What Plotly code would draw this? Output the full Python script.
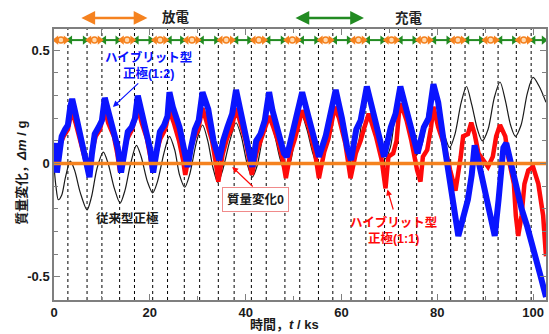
import plotly.graph_objects as go

# ---- data -------------------------------------------------------------
# switching times between discharge and charge steps (ks)
switch_times = [2.9, 6.9, 10.0, 13.7, 16.8, 20.6, 23.7, 27.2, 30.4, 34.3, 37.6,
                41.2, 44.3, 48.2, 51.3, 55.2, 58.2, 62.0, 65.1, 69.0, 71.9,
                75.7, 78.9, 82.8, 85.8, 89.6, 92.7, 96.5, 99.6]
t_end = 102.7

# conventional cathode
t_conv = [0.0, 0.4, 0.9, 1.6, 2.4, 3.4, 4.3, 5.5, 6.9, 7.8, 9.0, 10.3, 11.3, 12.6,
          13.8, 14.8, 16.0, 17.2, 18.2, 19.5, 20.6, 21.6, 23.0, 24.1, 25.2, 26.2,
          27.3, 28.3, 29.8, 31.0, 32.1, 33.2, 34.2, 35.2, 36.7, 38.0, 39.1, 40.3,
          41.4, 42.4, 43.7, 44.8, 46.0, 47.2, 48.3, 49.4, 50.6, 51.6, 52.8, 54.1,
          55.3, 56.4, 57.6, 58.6, 59.8, 61.0, 62.1, 63.2, 64.4, 65.5, 66.7, 68.0,
          69.1, 70.2, 71.3, 72.3, 73.5, 74.7, 75.8, 76.9, 78.1, 79.2, 80.4, 81.6,
          82.6, 83.7, 85.0, 86.1, 87.2, 88.4, 89.4, 90.6, 91.9, 93.1, 94.2, 95.3,
          96.3, 97.5, 98.8, 100.0, 101.3, 102.7]
m_conv = [-0.01, -0.10, -0.16, -0.14, -0.06, 0.01, -0.03, -0.13, -0.205, -0.15,
          -0.02, 0.05, 0.0, -0.11, -0.175, -0.12, 0.0, 0.08, 0.03, -0.08, -0.13,
          -0.08, 0.05, 0.12, 0.06, -0.05, -0.105, -0.05, 0.10, 0.17, 0.10, -0.02,
          -0.085, -0.03, 0.10, 0.18, 0.12, 0.0, -0.06, -0.01, 0.13, 0.20, 0.13,
          0.02, -0.04, 0.01, 0.15, 0.22, 0.15, 0.04, -0.02, 0.03, 0.17, 0.25, 0.17,
          0.06, 0.0, 0.05, 0.20, 0.28, 0.20, 0.08, 0.02, 0.07, 0.22, 0.29, 0.21,
          0.10, 0.04, 0.09, 0.24, 0.31, 0.23, 0.12, 0.07, 0.13, 0.27, 0.34, 0.26,
          0.15, 0.10, 0.15, 0.29, 0.36, 0.28, 0.17, 0.12, 0.17, 0.31, 0.38, 0.34,
          0.27]

# hybrid cathode (1:1)
t_h11 = [0.0, 1.0, 2.0, 2.9, 3.7, 4.5, 5.5, 6.5, 7.2, 8.0, 8.7, 9.6, 10.6, 11.3,
         12.5, 13.2, 13.8, 14.6, 15.3, 16.3, 17.5, 18.3, 19.4, 20.1, 20.6, 21.4,
         22.2, 23.2, 24.1, 25.0, 26.1, 26.9, 27.4, 28.3, 29.2, 30.1, 31.0, 31.9,
         33.0, 33.8, 34.3, 35.2, 36.1, 37.0, 38.0, 38.9, 40.0, 40.8, 41.3, 42.3,
         43.2, 44.0, 44.9, 45.8, 46.9, 47.8, 48.4, 49.4, 50.3, 51.8, 53.2, 54.5,
         55.3, 56.4, 57.3, 58.6, 59.5, 60.8, 61.9, 63.0, 64.0, 64.8, 65.7, 67.2,
         68.4, 69.2, 69.8, 70.8, 71.5, 72.0, 72.4, 73.6, 74.6, 75.8, 76.5, 77.0,
         77.9, 78.7, 79.2, 80.2, 81.6, 82.7, 83.8, 84.9, 85.4, 86.4, 87.1, 87.8,
         88.6, 89.6, 90.6, 91.6, 92.3, 93.1, 94.2, 94.8, 96.0, 96.4, 96.9, 97.6,
         98.2, 99.0, 100.0, 101.1, 102.1, 102.7]
m_h11 = [0.02, 0.07, 0.12, 0.15, 0.235, 0.18, 0.10, 0.01, -0.04, 0.06, 0.12, 0.15,
         0.245, 0.18, 0.12, 0.045, -0.04, 0.05, 0.11, 0.15, 0.245, 0.18, 0.11,
         0.03, -0.04, 0.05, 0.11, 0.15, 0.235, 0.18, 0.10, 0.02, -0.05, 0.05,
         0.11, 0.15, 0.245, 0.18, 0.10, 0.0, -0.08, 0.04, 0.11, 0.15, 0.245, 0.18,
         0.10, 0.01, -0.05, 0.05, 0.11, 0.15, 0.21, 0.16, 0.09, 0.01, -0.065, 0.05,
         0.11, 0.235, 0.16, 0.045, -0.065, 0.05, 0.11, 0.25, 0.20, 0.09, -0.065,
         0.045, 0.10, 0.16, 0.22, 0.12, 0.015, -0.11, 0.03, 0.045, 0.10, 0.22,
         0.265, 0.19, 0.10, -0.03, -0.08, 0.03, 0.06, 0.16, 0.25, 0.16, 0.07,
         -0.03, -0.12, 0.03, 0.12, 0.13, 0.18, 0.13, 0.045, 0.015, -0.015, 0.03,
         0.12, 0.17, 0.12, 0.03, -0.09, -0.23, -0.32, -0.23, -0.09, -0.03, -0.015,
         -0.09, -0.23, -0.41]

# hybrid cathode (1:2)
t_h12 = [0.0, 0.3, 0.6, 1.0, 1.6, 2.3, 2.9, 3.4, 3.8, 4.4, 5.3, 6.3, 7.0, 7.4,
         7.9, 8.5, 9.3, 10.0, 10.6, 11.2, 12.3, 13.3, 14.0, 14.6, 15.4, 16.2,
         16.9, 17.5, 18.1, 19.2, 20.1, 20.7, 21.3, 22.1, 23.0, 23.7, 24.1, 24.8,
         26.2, 27.1, 27.9, 28.5, 29.4, 30.2, 31.0, 32.2, 33.3, 34.5, 35.3, 36.2,
         37.2, 38.0, 39.5, 40.6, 41.4, 42.2, 43.1, 44.0, 44.9, 45.6, 47.0, 48.0,
         48.6, 49.6, 50.6, 51.8, 53.2, 54.7, 55.3, 56.7, 57.8, 58.8, 60.1, 61.2,
         62.0, 63.1, 64.0, 65.3, 66.7, 68.1, 68.9, 70.3, 71.3, 72.3, 73.6, 74.6,
         75.9, 77.2, 78.2, 79.2, 80.2, 81.2, 82.0, 82.7, 83.4, 84.0, 84.4, 85.4,
         86.4, 87.2, 87.8, 88.5, 89.5, 90.5, 91.3, 92.0, 92.8, 93.3, 93.8, 94.4,
         95.2, 96.3, 97.6, 98.8, 100.2, 101.6, 102.7]
m_h12 = [0.02, 0.09, -0.04, 0.05, 0.12, 0.15, 0.17, 0.25, 0.285, 0.23, 0.15, 0.06,
         -0.02, -0.06, 0.04, 0.13, 0.16, 0.19, 0.29, 0.24, 0.17, 0.07, -0.04, 0.05,
         0.14, 0.16, 0.20, 0.30, 0.25, 0.16, 0.06, -0.04, 0.05, 0.14, 0.17, 0.21,
         0.315, 0.25, 0.16, 0.05, -0.015, 0.06, 0.15, 0.19, 0.315, 0.24, 0.10,
         0.015, 0.10, 0.16, 0.22, 0.325, 0.16, 0.045, -0.015, 0.10, 0.13, 0.19,
         0.315, 0.235, 0.12, 0.045, 0.03, 0.12, 0.19, 0.315, 0.20, 0.07, 0.03,
         0.12, 0.22, 0.325, 0.20, 0.07, 0.015, 0.15, 0.19, 0.34, 0.22, 0.10, 0.03,
         0.16, 0.22, 0.34, 0.235, 0.15, 0.045, 0.16, 0.20, 0.35, 0.27, 0.12, 0.015,
         -0.10, -0.17, -0.28, -0.32, -0.24, -0.16, -0.05, 0.08, 0.02, -0.08, -0.19,
         -0.26, -0.32, -0.16, -0.03, 0.07, 0.09, 0.015, -0.10, -0.20, -0.28, -0.38,
         -0.50, -0.59]

x_ticks = [0, 20, 40, 60, 80, 100]
y_ticks = [-0.5, 0, 0.5]
y_tick_text = ["-0.5", "0", "0.5"]

# ---- styles -----------------------------------------------------------
BLUE = "#0a14ff"
RED = "#ff0a0a"
ORANGE = "#f5821f"
GREEN = "#228b22"
FRAME = "#7f7f7f"
FONT = "Liberation Sans, Noto Sans CJK JP, sans-serif"
STRIP_Y = 0.545

fig = go.Figure()

fig.add_trace(go.Scatter(x=t_conv, y=m_conv, mode="lines",
                         line=dict(color="#1a1a1a", width=1.2, shape="spline", smoothing=0.8)))
fig.add_trace(go.Scatter(x=t_h11, y=m_h11, mode="lines",
                         line=dict(color=RED, width=4.5)))
fig.add_trace(go.Scatter(x=t_h12, y=m_h12, mode="lines",
                         line=dict(color=BLUE, width=6)))
# zero mass change reference line
fig.add_trace(go.Scatter(x=[0, t_end], y=[0, 0], mode="lines",
                         line=dict(color=ORANGE, width=3.5)))

# discharge / charge step indicators along the top of the plot
bounds = [0.0] + switch_times + [t_end]
seg_x = {"dis": [], "chg": []}
seg_sym = {"dis": [], "chg": []}
mid_x = []
for i in range(len(bounds) - 1):
    a, b = bounds[i], bounds[i + 1]
    kind = "dis" if i % 2 == 0 else "chg"
    pad = 0.45
    seg_x[kind] += [a + pad, b - pad, None]
    seg_sym[kind] += ["triangle-left", "triangle-right", "circle"]
    if kind == "dis":
        mid_x.append((a + b) / 2)

for kind, col in (("chg", GREEN), ("dis", ORANGE)):
    fig.add_trace(go.Scatter(
        x=seg_x[kind], y=[STRIP_Y if v is not None else None for v in seg_x[kind]],
        mode="lines+markers", connectgaps=False,
        line=dict(color=col, width=2),
        marker=dict(symbol=seg_sym[kind], size=8, color=col, line=dict(width=0))))
fig.add_trace(go.Scatter(x=mid_x, y=[STRIP_Y] * len(mid_x), mode="markers",
                         marker=dict(symbol="circle", size=6, color="#ffd9b0",
                                     line=dict(color=ORANGE, width=1.5))))

# dashed lines at each step change
for t in switch_times:
    fig.add_shape(type="line", xref="x", yref="paper", x0=t, x1=t, y0=0, y1=1,
                  line=dict(color="black", width=1, dash="3px,3px"), layer="below")

C = dict(xanchor="center", yanchor="middle")
ann = []
# legend arrows above the plot
for x0, x1, col, label, lx in ((5.4, 19.5, ORANGE, "放電", 25.4),
                               (50.1, 64.7, GREEN, "充電", 74.2)):
    ann.append(dict(x=x1, y=1.0406, xref="x", yref="paper", ax=x0, ay=0,
                    axref="x", ayref="pixel", text="", showarrow=True,
                    arrowhead=2, arrowside="end+start", arrowsize=1.1,
                    arrowwidth=2.5, arrowcolor=col))
    ann.append(dict(x=lx, y=1.0406, xref="x", yref="paper", text=label,
                    showarrow=False, font=dict(size=13.5, color="#222222"), **C))

ann += [
    dict(x=19.8, y=0.435, xref="x", yref="y", text="ハイブリット型<br>正極(1:2)",
         showarrow=False, font=dict(size=12.5, color=BLUE), **C),
    dict(x=12.3, y=0.25, ax=17.9, ay=0.36, xref="x", yref="y", axref="x", ayref="y",
         text="", showarrow=True, arrowhead=2, arrowsize=1, arrowwidth=1.2,
         arrowcolor=BLUE),
    dict(x=15.4, y=-0.245, xref="x", yref="y", text="従来型正極",
         showarrow=False, font=dict(size=12.5, color="#1a1a1a"), **C),
    dict(x=42.0, y=-0.161, xref="x", yref="y", text="質量変化0",
         showarrow=False, font=dict(size=12.5, color="#1a1a1a"),
         bordercolor="#f08a8a", borderwidth=1, borderpad=4, bgcolor="white", **C),
    dict(x=37.2, y=-0.015, ax=41.8, ay=-0.108, xref="x", yref="y", axref="x",
         ayref="y", text="", showarrow=True, arrowhead=2, arrowsize=1,
         arrowwidth=1.2, arrowcolor=RED),
    dict(x=70.9, y=-0.296, xref="x", yref="y", text="ハイブリット型<br>正極(1:1)",
         showarrow=False, font=dict(size=12.5, color=RED), **C),
    dict(x=69.6, y=-0.115, ax=70.9, ay=-0.21, xref="x", yref="y", axref="x",
         ayref="y", text="", showarrow=True, arrowhead=2, arrowsize=1,
         arrowwidth=1.2, arrowcolor=RED),
    # axis titles
    dict(x=48.2, y=-0.092, xref="x", yref="paper", text="時間，<i>t</i> / ks",
         showarrow=False, font=dict(size=13, color="#1a1a1a"), **C),
    dict(x=-0.065, y=0.47, xref="paper", yref="paper", text="質量変化，<i>Δm</i> / g",
         textangle=-90, showarrow=False, font=dict(size=13, color="#1a1a1a"), **C),
]

fig.update_layout(
    width=549, height=334,
    margin=dict(l=54, r=1, t=29, b=34),
    paper_bgcolor="white", plot_bgcolor="white",
    showlegend=False,
    font=dict(family=FONT, size=13, color="#1a1a1a", weight="bold"),
    annotations=ann,
    xaxis=dict(range=[0, t_end], tickvals=x_ticks, ticks="inside", ticklen=6,
               tickwidth=1.2, tickcolor=FRAME, showline=True, linecolor=FRAME,
               linewidth=1.5, mirror="ticks", showgrid=False, zeroline=False,
               minor=dict(tick0=0, dtick=10, ticks="inside", ticklen=4,
                          tickcolor=FRAME, tickwidth=1),
               tickfont=dict(size=13)),
    yaxis=dict(range=[-0.603, 0.594], tickvals=y_ticks, ticktext=y_tick_text,
               ticks="inside", ticklen=6, tickwidth=1.2, tickcolor=FRAME,
               showline=True, linecolor=FRAME, linewidth=1.5, mirror="ticks",
               showgrid=False, zeroline=False,
               minor=dict(tick0=0, dtick=0.1, ticks="inside", ticklen=4,
                          tickcolor=FRAME, tickwidth=1),
               tickfont=dict(size=13)),
)

fig.write_html("out.html")
